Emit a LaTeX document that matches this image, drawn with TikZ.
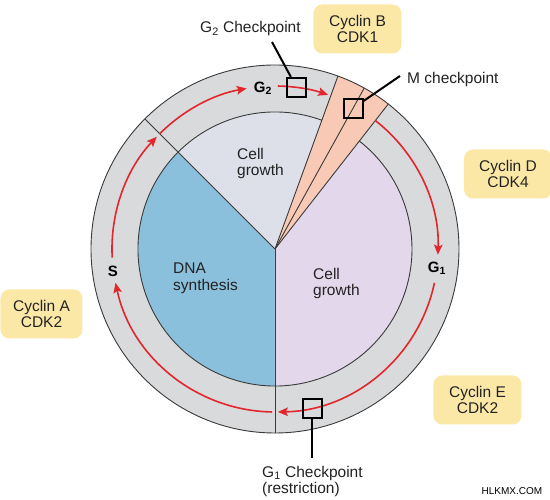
\documentclass[tikz,border=0pt]{standalone}
\usepackage{fontspec}
\setmainfont{Liberation Sans}
\usetikzlibrary{arrows.meta}
\definecolor{ringgray}{HTML}{D9DADC}
\definecolor{gtwocol}{HTML}{DDE0E9}
\definecolor{dnablue}{HTML}{8BC0DC}
\definecolor{gonecol}{HTML}{E3D7EB}
\definecolor{mpink}{HTML}{F8CAB6}
\definecolor{cycyellow}{HTML}{FCE8A6}
\definecolor{arrowred}{HTML}{E3262B}
\definecolor{edgegray}{HTML}{3A3A3A}
\definecolor{textcol}{HTML}{222222}
\begin{document}
\begin{tikzpicture}[x=1pt,y=1pt,
  lbl/.style={font=\fontsize{15.5}{16.5}\selectfont, inner sep=0pt, text=textcol},
  cyclin/.style={rounded corners=9pt, fill=cycyellow, minimum width=88pt, minimum height=49pt, align=center, font=\fontsize{15.5}{16.5}\selectfont, inner sep=0pt, text=textcol},
  phase/.style={font=\fontsize{15}{15}\selectfont\bfseries, inner sep=0pt, text=black},
  ckbox/.style={draw=black, line width=2pt, minimum size=19pt, inner sep=0pt},
  ckline/.style={draw=black, line width=2pt},
  cyc/.style={draw=arrowred, line width=1.6pt, -{Stealth[length=10pt,width=8.5pt,inset=2pt]}},
  edgeline/.style={draw=edgegray, line width=0.9pt}]

\useasboundingbox (-275,-251) rectangle (275,249);
\fill[white] (-275,-251) rectangle (275,249);

% ring and sectors
\fill[ringgray] (0,0) circle[radius=184pt];
\fill[dnablue] (0,0) -- (135:137pt) arc[start angle=135,end angle=270,radius=137pt] -- cycle;
\fill[gtwocol] (0,0) -- (70:137pt) arc[start angle=70,end angle=135,radius=137pt] -- cycle;
\fill[gonecol] (0,0) -- (-90:137pt) arc[start angle=-90,end angle=52,radius=137pt] -- cycle;
\fill[mpink] (0,0) -- (52:184pt) arc[start angle=52,end angle=70,radius=184pt] -- cycle;

% outlines
\draw[edgeline] (0,0) circle[radius=184pt];
\draw[edgeline] (70:137pt) arc[start angle=70,end angle=412,radius=137pt];
\draw[edgeline] (0,0) -- (135:184pt);
\draw[edgeline] (0,0) -- (-90:184pt);
\draw[edgeline] (0,0) -- (52:184pt);
\draw[edgeline] (0,0) -- (61:184pt);
\draw[edgeline] (0,0) -- (70:184pt);

% cycle arrows
\draw[cyc] (183:163pt) arc[start angle=183,end angle=136.5,radius=163pt];
\draw[cyc] (135:163pt) arc[start angle=135,end angle=100,radius=163pt];
\draw[cyc] (89:163pt) arc[start angle=89,end angle=71,radius=163pt];
\draw[cyc] (52:163pt) arc[start angle=52,end angle=-2,radius=163pt];
\draw[cyc] (-12:163pt) arc[start angle=-12,end angle=-89,radius=163pt];
\draw[cyc] (269:163pt) arc[start angle=269,end angle=192,radius=163pt];

% phase labels
\node[phase] (phaseS) at (-162,-22) {S};
\node[phase] (phaseGtwo) at (-12,161) {G\textsubscript{2}};
\node[phase] (phaseGone) at (162,-19) {G\textsubscript{1}};

% checkpoints
\node[ckbox] (gtwobox) at (82.4:163pt) {};
\node[ckbox] (mbox) at (61:161pt) {};
\node[ckbox] (gonebox) at (-76.8:164pt) {};
\coordinate (gtwoend) at (-3,207);
\coordinate (mend) at (125,173);
\path (gonebox) ++(0,-49.5) coordinate (goneend);
\draw[ckline] (gtwobox) -- (gtwoend);
\draw[ckline] (mbox) -- (mend);
\draw[ckline] (gonebox) -- (goneend);

\node[lbl, anchor=base west] (gtwolbl) at (-75,216) {G\textsubscript{2} Checkpoint};
\node[lbl, anchor=base west] (mlbl) at (132,165) {M checkpoint};
\node[lbl, anchor=north west, align=left] (gonelbl) at (-13,-217) {G\textsubscript{1} Checkpoint\\(restriction)};

% region labels
\node[lbl, anchor=north west, align=left] (growtop) at (-38,101) {Cell\\growth};
\node[lbl, anchor=north west, align=left] (growbot) at (38,-19) {Cell\\growth};
\node[lbl, anchor=north west, align=left] (dna) at (-102,-14) {DNA\\synthesis};

% cyclins
\node[cyclin] (cycB) at (82.5,220) {Cyclin B\\CDK1};
\node[cyclin] (cycD) at (233,75) {Cyclin D\\CDK4};
\node[cyclin, minimum width=82pt] (cycA) at (-233.5,-65) {Cyclin A\\CDK2};
\node[cyclin] (cycE) at (202.5,-151) {Cyclin E\\CDK2};

\node[font=\fontsize{10}{10}\selectfont, inner sep=0pt, text=black] (wm) at (237,-242) {HLKMX.COM};
\end{tikzpicture}
\end{document}
